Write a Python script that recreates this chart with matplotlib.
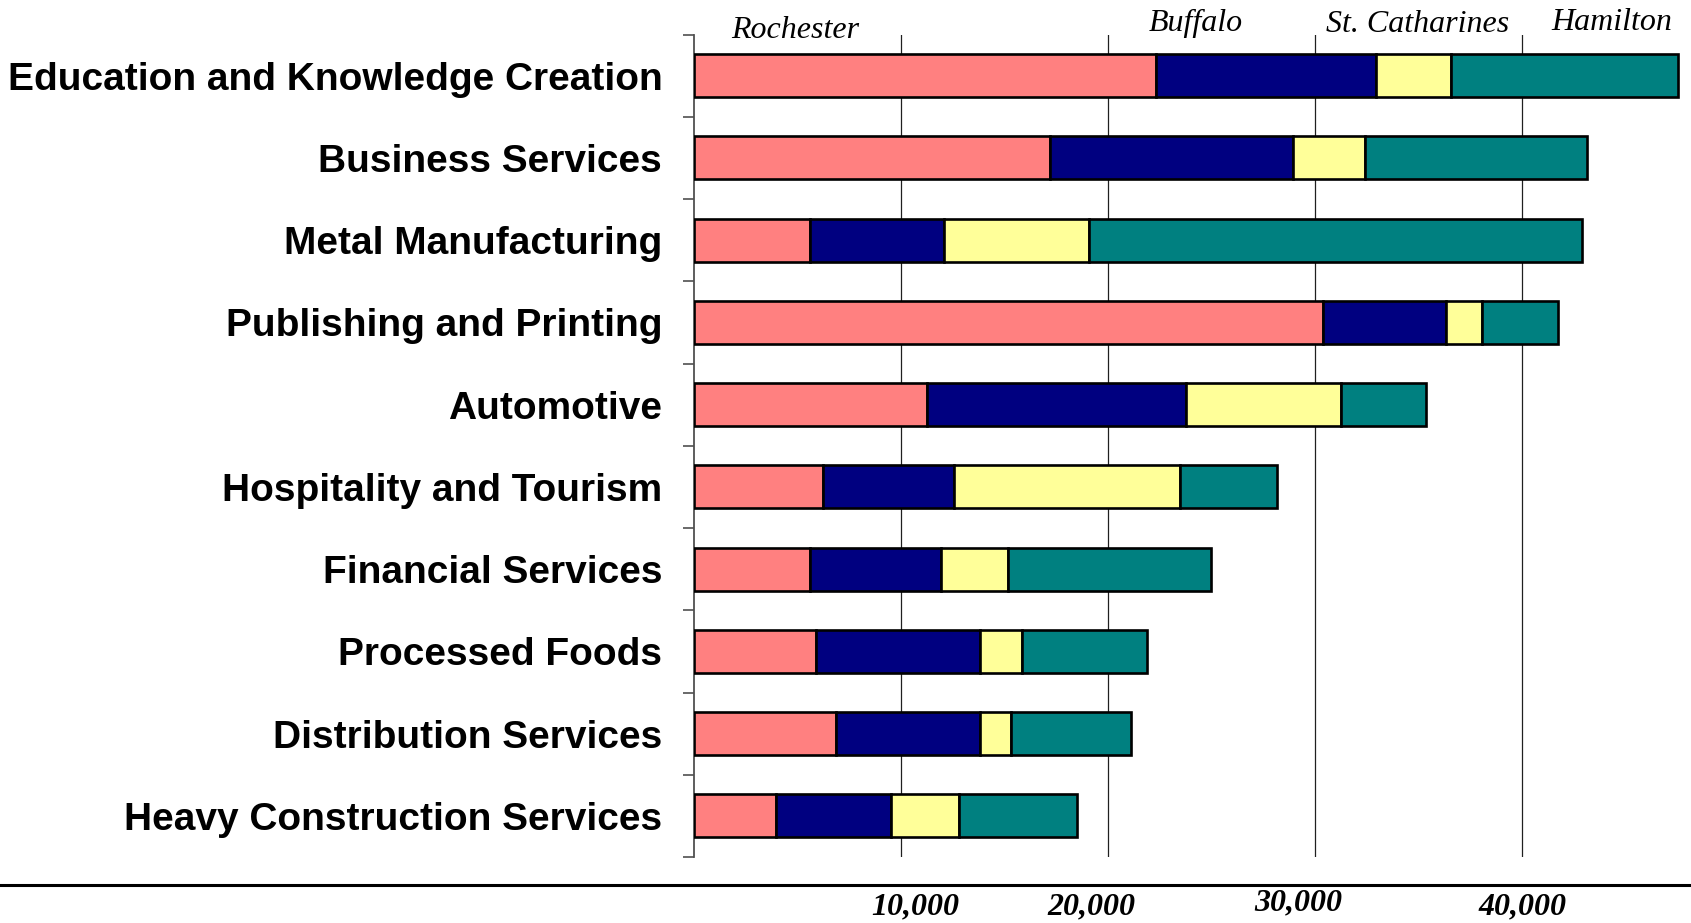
import matplotlib
matplotlib.use("Agg")
import matplotlib.pyplot as plt
import matplotlib.transforms as mtransforms
import numpy as np

# Employment by industry cluster, stacked by city
clusters = [
    "Education and Knowledge Creation",
    "Business Services",
    "Metal Manufacturing",
    "Publishing and Printing",
    "Automotive",
    "Hospitality and Tourism",
    "Financial Services",
    "Processed Foods",
    "Distribution Services",
    "Heavy Construction Services",
]
cities = ["Rochester", "Buffalo", "St. Catharines", "Hamilton"]

rochester = [22350, 17200, 5650, 30400, 11300, 6250, 5650, 5900, 6900, 4000]
buffalo = [10600, 11750, 6450, 5950, 12500, 6350, 6300, 7950, 6950, 5550]
st_catharines = [3650, 3500, 7000, 1750, 7500, 10900, 3250, 2000, 1500, 3300]
hamilton = [10950, 10700, 23800, 3650, 4100, 4700, 9800, 6050, 5800, 5700]

tick_values = [10000, 20000, 30000, 40000]
tick_labels = ["10,000", "20,000", "30,000", "40,000"]

colors = ["#FF8080", "#000080", "#FFFF99", "#008080"]

W, H = 1691, 923
fig = plt.figure(figsize=(W / 100, H / 100), dpi=100)

ax_left, ax_right = 693.5, 1687.1
ax_top, ax_bottom = 34.5, 857.0
ax = fig.add_axes([ax_left / W, 1 - ax_bottom / H,
                   (ax_right - ax_left) / W, (ax_bottom - ax_top) / H])

series = [rochester, buffalo, st_catharines, hamilton]
y = np.arange(len(clusters))
left = np.zeros(len(clusters))
for vals, col in zip(series, colors):
    vals = np.array(vals, dtype=float)
    ax.barh(y, vals, left=left, height=0.52, color=col,
            edgecolor="black", linewidth=1.9, zorder=3)
    left += vals

ax.set_xlim(0, 48000)
ax.set_ylim(len(clusters) - 0.5, -0.5)

# vertical grid
for v in tick_values:
    ax.axvline(v, color="#202020", linewidth=0.9, zorder=1)

ax.set_xticks([])
for s in ["top", "right", "bottom"]:
    ax.spines[s].set_visible(False)
ax.spines["left"].set_color("#505050")
ax.spines["left"].set_linewidth(1.3)

ax.set_yticks(y)
ax.set_yticklabels(clusters, fontfamily="Liberation Sans",
                   fontweight="bold", fontsize=28)
ax.tick_params(axis="y", which="major", length=0, pad=22.5)
ax.set_yticks(np.arange(-0.5, len(clusters)), minor=True)
ax.tick_params(axis="y", which="minor", length=8, width=1.2,
               color="#505050", direction="out")

# city names across the top
city_x = [795, 1196, 1418, 1612]
city_base = [38.5, 31, 32.5, 30.5]
for name, cx, cy in zip(cities, city_x, city_base):
    fig.text(cx / W, 1 - cy / H, name, ha="center", va="baseline",
             fontfamily="Liberation Serif", fontstyle="italic", fontsize=23)

# rule above the value labels
fig.add_artist(plt.Line2D([0, 1], [1 - 885 / H, 1 - 885 / H],
                          color="black", linewidth=2.2,
                          transform=fig.transFigure))

# value labels along the bottom
label_shift_px = [15, -16, -16, 1]
label_base = [914, 914, 910, 914]
blend = mtransforms.blended_transform_factory(ax.transData, fig.transFigure)
for v, lab, dx, by in zip(tick_values, tick_labels, label_shift_px, label_base):
    tr = mtransforms.offset_copy(blend, fig=fig, x=dx, y=0, units="dots")
    fig.text(v, 1 - by / H, lab, transform=tr, ha="center", va="baseline",
             fontfamily="Liberation Serif", fontstyle="italic",
             fontweight="bold", fontsize=23)

fig.savefig("out.png", dpi=100)
